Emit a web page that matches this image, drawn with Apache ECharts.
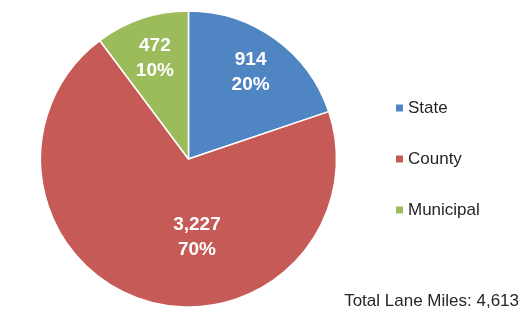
<!DOCTYPE html>
<html>
<head>
<meta charset="utf-8">
<script src="https://cdn.jsdelivr.net/npm/echarts@6/dist/echarts.min.js"></script>
<style>
html,body{margin:0;padding:0;background:#fff;}
#chart{width:520px;height:311px;}
</style>
</head>
<body>
<div id="chart"></div>
<script>
const categories = ['State', 'County', 'Municipal'];
const values = [914, 3227, 472];
const percents = ['20%', '70%', '10%'];
const totalLabel = 'Total Lane Miles: 4,613';

const colors = ['#5085C3', '#C65A56', '#9CBB5B'];
const FONT = '"Liberation Sans", Arial, sans-serif';

function fmtNum(v) { return v.toLocaleString('en-US'); }

const chart = echarts.init(document.getElementById('chart'), null, {renderer: 'canvas'});

const mainData = categories.map((c, i) => ({
  name: c, value: values[i], itemStyle: {color: colors[i]}
}));
const labelData = categories.map((c, i) => {
  const d = {name: c, value: values[i], pct: percents[i]};
  if (c === 'County') d.label = {offset: [40, -23]};
  return d;
});

chart.setOption({
  animation: false,
  color: colors,
  legend: {
    data: categories,
    orient: 'vertical',
    left: 396,
    top: 98,
    itemWidth: 7,
    itemHeight: 7,
    itemGap: 31,
    itemTextGap: 5,
    icon: 'rect',
    padding: 0,
    itemStyle: {borderWidth: 0},
    textStyle: {fontFamily: FONT, fontSize: 17, color: '#262626', lineHeight: 20}
  },
  title: {
    text: totalLabel,
    right: 1,
    top: 293,
    padding: 0,
    textStyle: {fontFamily: FONT, fontSize: 17, fontWeight: 'normal', color: '#262626'}
  },
  series: [
    {
      type: 'pie',
      center: [188.5, 159],
      radius: [0, 148],
      startAngle: 90,
      clockwise: true,
      label: {show: false},
      labelLine: {show: false},
      emphasis: {disabled: true},
      itemStyle: {borderColor: '#ffffff', borderWidth: 1.5},
      data: mainData
    },
    {
      type: 'pie',
      center: [188.5, 159],
      radius: [59, 148],
      startAngle: 90,
      clockwise: true,
      silent: true,
      legendHoverLink: false,
      itemStyle: {color: 'rgba(0,0,0,0)', borderWidth: 0},
      emphasis: {disabled: true},
      labelLine: {show: false},
      label: {
        show: true,
        position: 'inside',
        fontFamily: FONT,
        fontSize: 19,
        fontWeight: 'bold',
        color: '#ffffff',
        lineHeight: 25,
        align: 'center',
        formatter: p => fmtNum(p.value) + '\n' + p.data.pct
      },
      data: labelData
    }
  ]
});
</script>
</body>
</html>
